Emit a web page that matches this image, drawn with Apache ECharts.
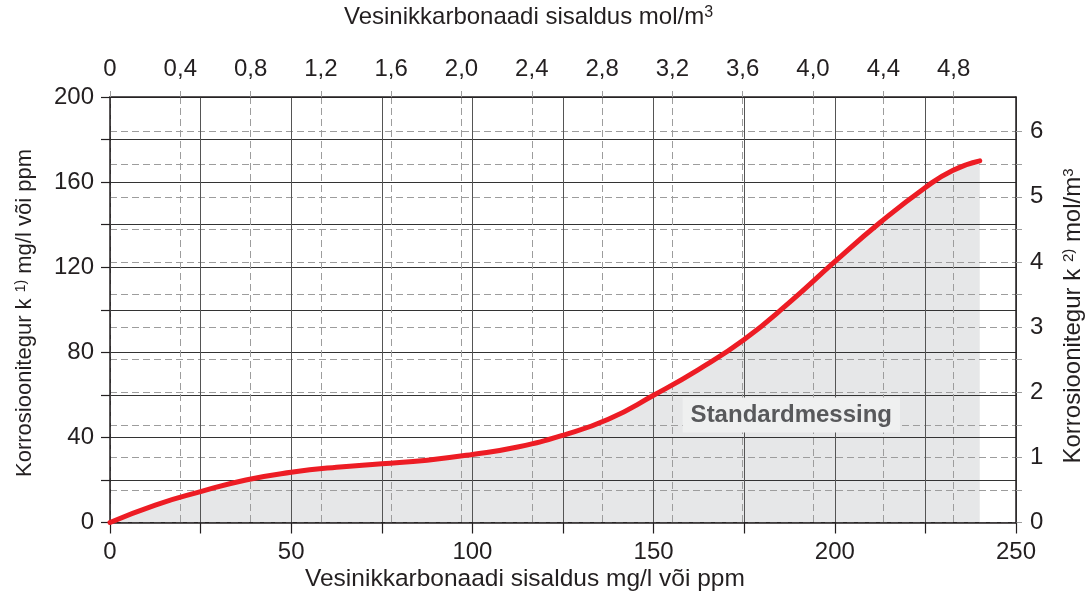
<!DOCTYPE html>
<html>
<head>
<meta charset="utf-8">
<script src="https://cdn.jsdelivr.net/npm/echarts@6/dist/echarts.min.js"></script>
<style>
html,body{margin:0;padding:0;background:#fff;}
#chart{width:1087px;height:601px;}
</style>
</head>
<body>
<div id="chart"></div>
<script>
// ---- data ----
const bicarbonateMg = [0, 12.5, 25, 37.5, 50, 62.5, 75, 87.5, 100, 112.5, 125, 137.5, 150, 162.5, 175, 187.5, 200, 212.5, 225, 232.5, 240];
const corrosionK    = [0, 8.2, 14.5, 20.0, 23.6, 26.0, 27.6, 29.3, 32, 35.5, 41, 48.5, 59.8, 72, 86, 103.5, 122.6, 141, 157.5, 165.5, 170];

const bottomLabels = [0, 50, 100, 150, 200, 250];
const leftLabels   = [0, 40, 80, 120, 160, 200];
const topTicks     = [0, 0.4, 0.8, 1.2, 1.6, 2.0, 2.4, 2.8, 3.2, 3.6, 4.0, 4.4, 4.8];
const rightTicks   = [0, 0.5, 1, 1.5, 2, 2.5, 3, 3.5, 4, 4.5, 5, 5.5, 6];
const rightLabels  = [0, 1, 2, 3, 4, 5, 6];
const topMax   = 5.155;
const rightMax = 6.533;
const annotation = { text: 'Standardmessing', x: 188, y: 50.5 };

const FONT = '"Liberation Sans", Arial, sans-serif';
const TXT = '#231f20';
const DASH = '#9d9d9d';

const pts = bicarbonateMg.map((x, i) => [x, corrosionK[i]]);

// split-line colours for the right axis: hide the 6.5 line (it would double the top border)
const rightSplitColors = [];
for (let v = 0; v <= 6.5 + 1e-9; v += 0.5) rightSplitColors.push(Math.abs(v - 6.5) < 1e-6 ? 'rgba(0,0,0,0)' : DASH);
rightSplitColors.push('rgba(0,0,0,0)');

const chart = echarts.init(document.getElementById('chart'), null, { renderer: 'canvas' });
const commaFmt = v => (v === 0 ? '0' : v.toFixed(1).replace('.', ','));

chart.setOption({
  animation: false,
  backgroundColor: '#fff',
  textStyle: { fontFamily: FONT },
  grid: { left: 110, right: 71, top: 97, bottom: 78.5, containLabel: false },
  xAxis: [
    {
      type: 'value', position: 'bottom', min: 0, max: 250, interval: 25, z: 2,
      axisLine: { show: true, onZero: false, lineStyle: { color: TXT, width: 1.5 } },
      axisTick: { show: true, length: 11, lineStyle: { color: TXT, width: 1.2 } },
      axisLabel: { customValues: bottomLabels, margin: 18, fontSize: 24, color: TXT, fontFamily: FONT },
      splitLine: { show: true, lineStyle: { color: '#555', width: 1 } }
    },
    {
      type: 'value', position: 'top', min: 0, max: topMax, interval: 0.4, z: 2,
      axisLine: { show: true, onZero: false, lineStyle: { color: TXT, width: 1.5 } },
      axisTick: { show: true, customValues: topTicks, length: 9, lineStyle: { color: DASH, width: 1, type: [6, 4] } },
      axisLabel: { customValues: topTicks, margin: 16, fontSize: 24, color: TXT, fontFamily: FONT, formatter: commaFmt },
      splitLine: { show: true, lineStyle: { color: DASH, width: 1, type: [7, 4] } }
    }
  ],
  yAxis: [
    {
      type: 'value', position: 'left', min: 0, max: 200, interval: 20, z: 2,
      axisLine: { show: true, onZero: false, lineStyle: { color: TXT, width: 1.5 } },
      axisTick: { show: true, length: 9, lineStyle: { color: TXT, width: 1.2 } },
      axisLabel: { customValues: leftLabels, margin: 16, fontSize: 24, color: TXT, fontFamily: FONT },
      splitLine: { show: true, lineStyle: { color: '#333', width: 1 } }
    },
    {
      type: 'value', position: 'right', min: 0, max: rightMax, interval: 0.5, z: 2,
      axisLine: { show: true, onZero: false, lineStyle: { color: TXT, width: 1.5 } },
      axisTick: { show: true, customValues: rightTicks, length: 9, lineStyle: { color: DASH, width: 1, type: [6, 4] } },
      axisLabel: { customValues: rightLabels, margin: 14, fontSize: 24, color: TXT, fontFamily: FONT },
      splitLine: { show: true, lineStyle: { color: rightSplitColors, width: 1, type: [7, 4] } }
    }
  ],
  series: [
    {
      name: 'area', type: 'line', xAxisIndex: 0, yAxisIndex: 0, z: 1,
      data: pts, smooth: 0.5, symbol: 'none',
      lineStyle: { width: 0, opacity: 0 },
      areaStyle: { color: '#e6e7e8', opacity: 1 },
      silent: true
    },
    {
      name: 'k', type: 'line', xAxisIndex: 0, yAxisIndex: 0, z: 3,
      data: pts, smooth: 0.5, symbol: 'none',
      lineStyle: { color: '#ed1c24', width: 5, cap: 'round' },
      markPoint: {
        symbol: 'rect', symbolSize: 1,
        itemStyle: { color: 'rgba(0,0,0,0)' },
        label: {
          show: true, position: 'inside', formatter: annotation.text,
          fontSize: 24, fontWeight: 'bold', color: '#58595b', fontFamily: FONT,
          backgroundColor: '#eff0f0', padding: [6, 8, 5, 8]
        },
        data: [{ coord: [annotation.x, annotation.y] }]
      }
    }
  ],
  graphic: [
    {
      type: 'text', left: 344, top: 5,
      style: {
        text: '{a|Vesinikkarbonaadi sisaldus mol/m}{s|3}',
        rich: {
          a: { fontSize: 24, fontFamily: FONT, fill: TXT, color: TXT },
          s: { fontSize: 16, fontFamily: FONT, fill: TXT, color: TXT, verticalAlign: 'top' }
        }
      }
    },
    {
      type: 'text', left: 305, top: 567,
      style: { text: 'Vesinikkarbonaadi sisaldus mg/l või ppm', fontSize: 24.5, fontFamily: FONT, fill: TXT }
    },
    {
      type: 'text', x: 25, y: 313, rotation: Math.PI / 2,
      style: {
        text: '{a|Korrosioonitegur k }{s|1)}{a| mg/l või ppm}',
        align: 'center', verticalAlign: 'middle',
        rich: {
          a: { fontSize: 22, fontFamily: FONT, fill: TXT, color: TXT },
          s: { fontSize: 14, fontFamily: FONT, fill: TXT, color: TXT, verticalAlign: 'top' }
        }
      }
    },
    {
      type: 'text', x: 1073, y: 316, rotation: Math.PI / 2,
      style: {
        text: '{a|Korrosioonitegur k }{s|2)}{a| mol/m}{s|3}',
        align: 'center', verticalAlign: 'middle',
        rich: {
          a: { fontSize: 24, fontFamily: FONT, fill: TXT, color: TXT },
          s: { fontSize: 15, fontFamily: FONT, fill: TXT, color: TXT, verticalAlign: 'top' }
        }
      }
    }
  ]
});
</script>
</body>
</html>
